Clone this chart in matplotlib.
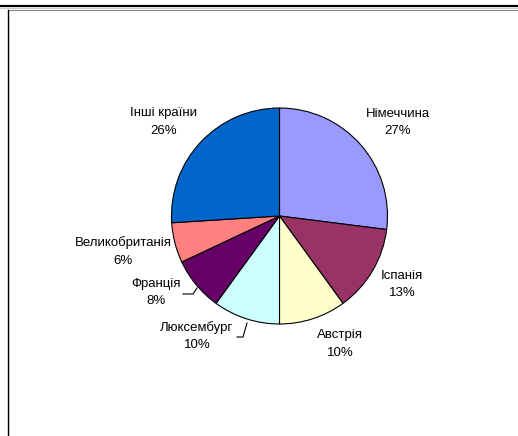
import matplotlib
matplotlib.use("Agg")
import matplotlib.pyplot as plt
from matplotlib.lines import Line2D

plt.rcParams['font.family'] = ['Liberation Sans', 'DejaVu Sans']

categories = ["Німеччина", "Іспанія", "Австрія", "Люксембург", "Франція", "Великобританія", "Інші країни"]
shares = [27, 13, 10, 10, 8, 6, 26]
colors = ["#9999FF", "#993366", "#FFFFCC", "#CCFFFF", "#660066", "#FF8080", "#0066CC"]

# label centres (pixel coords, x, y of name line)
label_pos = [(398, 114), (402, 276), (340, 335), (197, 328), (156, 284), (123, 243), (164, 113)]

W, H = 518, 436
fig = plt.figure(figsize=(W / 100, H / 100), dpi=100)
ax = fig.add_axes([0, 0, 1, 1])

cx, cy, r = 279.5, 216, 108
ax.pie(shares, colors=colors, startangle=90, counterclock=False,
       center=(cx, H - cy), radius=r,
       wedgeprops=dict(edgecolor="black", linewidth=0.8))
ax.set_xlim(0, W)
ax.set_ylim(0, H)
ax.set_aspect("equal")
ax.axis("off")

fs = 9.5
for name, val, (lx, ly) in zip(categories, shares, label_pos):
    ax.text(lx, H - ly, name, ha="center", va="center", fontsize=fs, color="black")
    ax.text(lx, H - ly - 17.5, f"{val}%", ha="center", va="center", fontsize=fs, color="black")

# leader lines
ax.plot([183, 193, 197], [H - 294, H - 294, H - 288], color="black", lw=0.8)
ax.plot([237, 243, 247], [H - 337, H - 337, H - 323], color="black", lw=0.8)

# frame lines
fig.add_artist(Line2D([0, 1], [1 - 6.5 / H, 1 - 6.5 / H], transform=fig.transFigure, color="black", lw=1.6))
fig.add_artist(Line2D([0, 1], [1 - 8.5 / H, 1 - 8.5 / H], transform=fig.transFigure, color="#cccccc", lw=0.8))
fig.add_artist(Line2D([8 / W, 1], [1 - 10.5 / H, 1 - 10.5 / H], transform=fig.transFigure, color="#888888", lw=0.8))
fig.add_artist(Line2D([8 / W, 8 / W], [0, 1 - 10.5 / H], transform=fig.transFigure, color="black", lw=1.0))
fig.add_artist(Line2D([9.3 / W, 9.3 / W], [0, 1 - 11.5 / H], transform=fig.transFigure, color="#bbbbbb", lw=0.6))

fig.savefig("out.png", dpi=100, facecolor="white")
